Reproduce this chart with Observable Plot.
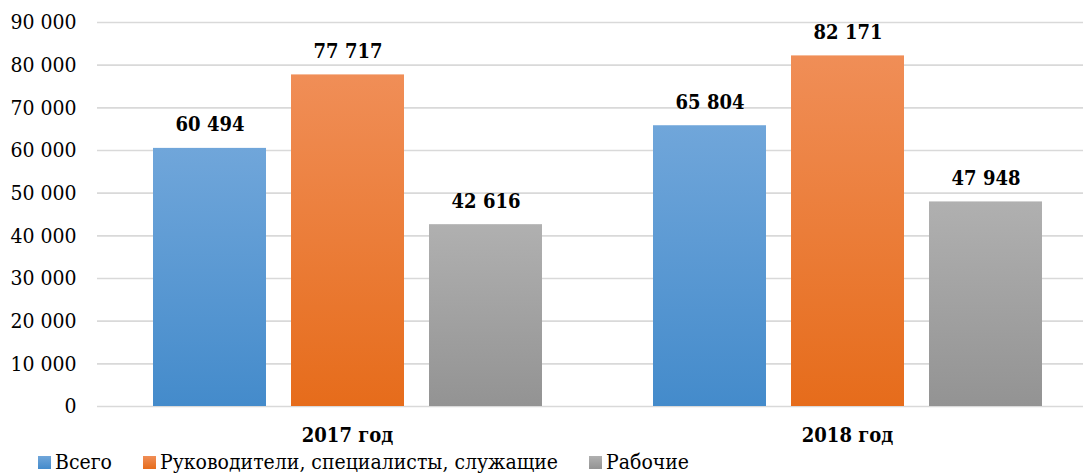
<!DOCTYPE html>
<html>
<head>
<meta charset="utf-8">
<script src="https://cdn.jsdelivr.net/npm/d3@7"></script>
<script src="https://cdn.jsdelivr.net/npm/@observablehq/plot@0.6"></script>
<style>
  html, body { margin: 0; padding: 0; background: #fff; overflow: hidden; }
  #wrap { position: relative; width: 1083px; height: 474px; overflow: hidden; }
  #chart svg { max-width: none !important; }
  #legend { position: absolute; left: 38px; top: 450px; font-family: "DejaVu Serif Condensed", "DejaVu Serif", serif; font-size: 21px; line-height: 24px; color: #000; white-space: nowrap; }
  #legend span.item { display: inline-block; margin-right: 31px; }
  #legend span.sw { display: inline-block; width: 13px; height: 13px; margin-right: 4px; vertical-align: baseline; }
</style>
</head>
<body>
<div id="wrap"><div id="chart"></div><div id="legend"></div></div>
<script>
const years = ["2017 год", "2018 год"];
const series = ["Всего", "Руководители, специалисты, служащие", "Рабочие"];
const values2017 = [60494, 77717, 42616];
const values2018 = [65804, 82171, 47948];
const yTicks = [0, 10000, 20000, 30000, 40000, 50000, 60000, 70000, 80000, 90000];

const gradients = [
  {id: "gBlue", top: "#70a6da", bottom: "#448bcb"},
  {id: "gOrange", top: "#f08e57", bottom: "#e66c1b"},
  {id: "gGray", top: "#b0b0b0", bottom: "#939393"}
];

const data = [];
years.forEach((yr, i) => {
  const vals = i === 0 ? values2017 : values2018;
  series.forEach((s, j) => data.push({year: yr, series: s, value: vals[j]}));
});

const fmt = v => d3.format(",")(v).replace(/,/g, " ");
const serif = "'DejaVu Serif Condensed', 'DejaVu Serif', serif";

const chart = Plot.plot({
  width: 1097,
  height: 450,
  marginLeft: 97,
  marginRight: 0,
  marginTop: 22,
  marginBottom: 44,
  style: {fontFamily: serif, color: "#000", background: "transparent", overflow: "visible", maxWidth: "none"},
  fx: {domain: years, paddingInner: 0, paddingOuter: 0, label: null},
  x: {domain: series, paddingInner: 0.184, paddingOuter: 0.397, axis: null},
  y: {domain: [0, 90000], axis: null},
  color: {type: "ordinal", domain: series, range: gradients.map(g => `url(#${g.id})`)},
  marks: [
    Plot.ruleY(yTicks, {stroke: "#d9d9d9", strokeWidth: 1.6}),
    Plot.axisY(yTicks, {anchor: "left", tickSize: 0, tickPadding: 21, tickFormat: fmt, fontSize: 21, label: null, facetAnchor: "left", fontFamily: serif}),
    Plot.barY(data, {fx: "year", x: "series", y: "value", fill: "series", style: {filter: "drop-shadow(0px 0px 2px rgba(0,0,0,0.3))"}}),
    Plot.text(data, {fx: "year", x: "series", y: "value", text: d => fmt(d.value), dy: -17, lineAnchor: "bottom", fontSize: 20, fontWeight: "bold", fontFamily: serif}),
    Plot.axisFx({anchor: "bottom", tickSize: 0, tickPadding: 21, fontSize: 20, fontWeight: "bold", label: null, fontFamily: serif})
  ]
});

const defs = document.createElementNS("http://www.w3.org/2000/svg", "defs");
defs.innerHTML = gradients.map(g =>
  `<linearGradient id="${g.id}" x1="0" y1="0" x2="0" y2="1"><stop offset="0" stop-color="${g.top}"/><stop offset="1" stop-color="${g.bottom}"/></linearGradient>`
).join("");
chart.insertBefore(defs, chart.firstChild);
document.getElementById("chart").appendChild(chart);

const legend = document.getElementById("legend");
legend.innerHTML = series.map((s, i) =>
  `<span class="item"><span class="sw" style="background: linear-gradient(${gradients[i].top}, ${gradients[i].bottom});"></span>${s}</span>`
).join("");
</script>
</body>
</html>
